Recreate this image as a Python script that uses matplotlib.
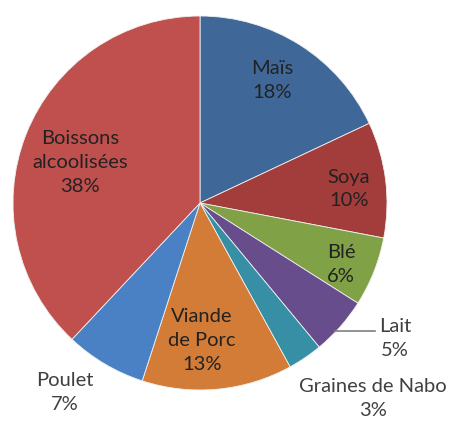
import matplotlib
matplotlib.use("Agg")
import matplotlib.pyplot as plt

labels = ["Maïs", "Soya", "Blé", "Lait", "Graines de Nabo",
          "Viande\nde Porc", "Poulet", "Boissons\nalcoolisées"]
values = [18, 10, 6, 5, 3, 13, 7, 38]
colors = ["#3F6899", "#A23D3B", "#80A146", "#684D8C", "#378FA5",
          "#D37C37", "#4A80C4", "#C0504D"]

# label anchor points in pixel space (x, y from top), inside labels dark, outside grey
label_pos = [(272, 80), (349, 189), (341, 264), (395, 338), (373, 399),
             (202, 341), (65, 393), (80, 163)]
outside = [False, False, False, True, True, False, True, False]

W, H = 450, 421
cx, cy, r = 200, 203, 187


def main():
    plt.rcParams["font.family"] = ["Lato", "DejaVu Sans"]
    fig = plt.figure(figsize=(W / 100, H / 100), dpi=100)
    ax = fig.add_axes([0, 0, 1, 1])

    ax.pie(values, colors=colors, startangle=90, counterclock=False,
           center=(cx, H - cy), radius=r,
           wedgeprops={"linewidth": 0.6, "edgecolor": "#f0f0f0"},
           frame=True)
    ax.set_xlim(0, W)
    ax.set_ylim(0, H)
    ax.set_aspect("equal")
    ax.axis("off")

    for lab, v, (x, y), out in zip(labels, values, label_pos, outside):
        ax.text(x, H - y, f"{lab}\n{v}%", ha="center", va="center",
                fontsize=14.5, linespacing=1.5,
                color="#404040" if out else "#222222")

    # leader line for Lait
    ax.plot([335, 375], [H - 331, H - 331], color="#7f7f7f", lw=1.2)

    fig.savefig("out.png", dpi=100)


if __name__ == "__main__":
    main()
